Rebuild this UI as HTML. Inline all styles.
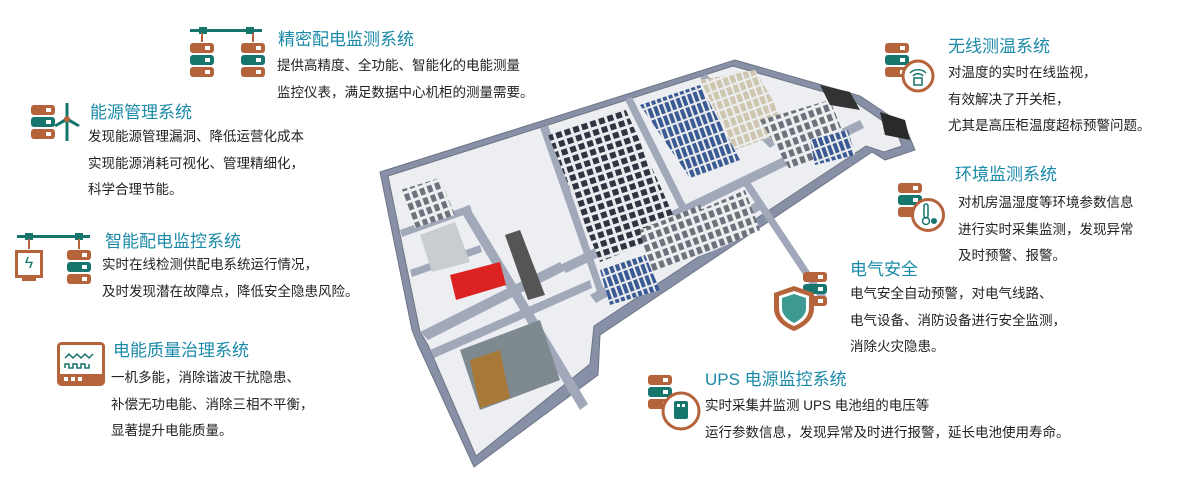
<!DOCTYPE html>
<html><head><meta charset="utf-8"><style>
body{margin:0;width:1200px;height:480px;background:#fff;position:relative;overflow:hidden;font-family:"Liberation Sans","Noto Sans CJK SC",sans-serif;}
.t{position:absolute;color:#1a8aa8;font-size:17px;white-space:nowrap;line-height:20px}
.p{position:absolute;color:#222;font-size:13.5px;white-space:nowrap;line-height:26.5px}
.sv{position:absolute;width:24px}
.sv div{height:10px;margin-bottom:2px;border-radius:3px;position:relative}
.sv .b{background:#b5633a}.sv .g{background:#16756c}
.sv div:after{content:"";position:absolute;right:4px;top:3px;width:5px;height:4px;background:#fff}
svg{position:absolute;left:0;top:0}
</style></head><body>
<svg width="1200" height="480" viewBox="0 0 1200 480">
<defs>
<pattern id="rk" width="9" height="9" patternUnits="userSpaceOnUse" patternTransform="rotate(-18)"><rect width="9" height="9" fill="#e9ebee"/><rect x="1" y="1" width="6" height="6" fill="#2f3440"/></pattern>
<pattern id="bk" width="6" height="12" patternUnits="userSpaceOnUse" patternTransform="rotate(-20)"><rect width="6" height="12" fill="#e9ebee"/><rect x="1" y="0" width="4" height="10" fill="#3a5a94"/></pattern>
<pattern id="gk" width="8" height="10" patternUnits="userSpaceOnUse" patternTransform="rotate(-20)"><rect width="8" height="10" fill="#eceef0"/><rect x="1" y="1" width="5" height="7" fill="#6c717b"/></pattern>
<pattern id="tk" width="7" height="10" patternUnits="userSpaceOnUse" patternTransform="rotate(-20)"><rect width="7" height="10" fill="#eceef0"/><rect x="1" y="1" width="5" height="8" fill="#cfc6b0"/></pattern>
</defs>
<g stroke="#6d7585" stroke-width="1">
<polygon points="380,172 735,60 860,96 905,126 915,150 885,160 872,152 600,335 598,375 474,467 418,345 412,330" fill="#8790a6"/>
<polygon points="388,176 733,66 852,100 896,130 902,146 884,152 866,146 594,326 590,364 476,456 428,345 420,332" fill="#eceef1"/>
</g>
<g fill="#a0a8b9">
<polygon points="420,332 560,262 566,270 428,340"/>
<polygon points="460,210 580,410 588,404 468,205"/>
<polygon points="540,128 600,300 606,296 548,125"/>
<polygon points="560,265 860,120 864,128 566,273"/>
<polygon points="625,100 700,250 706,246 632,97"/>
<polygon points="590,295 760,200 764,208 596,303"/>
<polygon points="430,350 590,280 592,288 434,358"/>
<polygon points="740,180 820,300 826,296 746,176"/>
<polygon points="400,230 470,205 472,212 402,237"/>
<polygon points="410,270 480,245 482,252 412,277"/>
<polygon points="700,78 770,148 776,144 706,74"/>
</g>
<g>
<polygon points="548,135 625,108 680,230 600,262" fill="url(#rk)"/>
<polygon points="640,105 700,85 740,160 690,178" fill="url(#bk)"/>
<polygon points="700,80 755,70 790,130 735,150" fill="url(#tk)"/>
<polygon points="760,120 830,100 850,150 790,170" fill="url(#gk)"/>
<polygon points="640,230 700,205 715,250 650,275" fill="url(#gk)"/>
<polygon points="700,210 745,190 760,230 715,250" fill="url(#gk)"/>
<polygon points="600,270 645,255 660,290 610,305" fill="url(#bk)"/>
<polygon points="810,140 848,130 855,155 815,165" fill="url(#bk)"/>
<polygon points="400,190 440,178 455,215 415,228" fill="url(#gk)"/>
<polygon points="450,275 500,262 506,285 456,300" fill="#d22"/>
<polygon points="420,235 455,222 470,262 432,272" fill="#c9ccd1"/>
<polygon points="505,235 520,230 545,295 528,300" fill="#555"/>
<polygon points="460,350 540,320 560,380 480,410" fill="#7f8a90"/>
<polygon points="470,360 500,350 505,375 475,385" fill="#a87838"/>
<polygon points="475,385 505,375 510,398 480,408" fill="#a87838"/>
<polygon points="820,85 850,92 860,110 830,105" fill="#333"/>
<polygon points="880,112 905,120 910,140 885,135" fill="#2a2a2a"/>
</g>
</svg>

<div style="position:absolute;left:190px;top:29px;width:72px;height:3px;background:#16756c"></div>
<div style="position:absolute;left:199px;top:27px;width:8px;height:7px;background:#16756c"></div>
<div style="position:absolute;left:246px;top:27px;width:8px;height:7px;background:#16756c"></div>
<div style="position:absolute;left:201px;top:33px;width:2px;height:9px;background:#b5633a"></div>
<div style="position:absolute;left:252px;top:33px;width:2px;height:9px;background:#b5633a"></div>
<div class="sv" style="left:190px;top:43px"><div class="b"></div><div class="g"></div><div class="b"></div></div>
<div class="sv" style="left:241px;top:43px"><div class="b"></div><div class="g"></div><div class="b"></div></div>

<div class="sv" style="left:31px;top:105px"><div class="b"></div><div class="g"></div><div class="b"></div></div>
<svg style="left:54px;top:103px" width="26" height="38"><rect x="11.5" y="0" width="3" height="38" fill="#16756c"/><polygon points="13,14 0,22 2,24 13,18" fill="#16756c"/><polygon points="13,14 26,22 24,24 13,18" fill="#16756c"/><circle cx="13" cy="16" r="3" fill="#b5633a"/></svg>

<div style="position:absolute;left:17px;top:235px;width:73px;height:3px;background:#16756c"></div>
<div style="position:absolute;left:25px;top:233px;width:8px;height:7px;background:#16756c"></div>
<div style="position:absolute;left:75px;top:233px;width:8px;height:7px;background:#16756c"></div>
<div style="position:absolute;left:28px;top:239px;width:2px;height:10px;background:#b5633a"></div>
<div style="position:absolute;left:78px;top:239px;width:2px;height:10px;background:#b5633a"></div>
<div style="position:absolute;left:15px;top:250px;width:22px;height:22px;border:3px solid #b5633a;color:#16756c;font-size:16px;text-align:center;line-height:22px">ϟ</div>
<div style="position:absolute;left:22px;top:278px;width:14px;height:3px;background:#b5633a"></div>
<div class="sv" style="left:67px;top:250px"><div class="b"></div><div class="g"></div><div class="b"></div></div>

<svg style="left:57px;top:342px" width="48" height="44"><rect x="1.5" y="1.5" width="45" height="41" rx="3" fill="none" stroke="#b5633a" stroke-width="3"/><rect x="1.5" y="32" width="45" height="10" fill="#b5633a"/><rect x="7" y="35" width="4" height="4" fill="#fff"/><rect x="14" y="35" width="4" height="4" fill="#fff"/><rect x="21" y="35" width="4" height="4" fill="#fff"/><path d="M8,16 l4,-4 4,4 4,-4 4,4 4,-4 4,4 4,-4" stroke="#16756c" fill="none" stroke-width="1.5"/><path d="M8,26 v-4 h4 v4 h4 v-4 h4 v4 h4 v-4 h4 v4 h4 v-4" stroke="#16756c" fill="none" stroke-width="1.5"/></svg>

<div class="sv" style="left:885px;top:43px"><div class="b"></div><div class="g"></div><div class="b"></div></div>
<svg style="left:900px;top:58px" width="36" height="36"><circle cx="18" cy="18" r="15" fill="#fff" stroke="#b5633a" stroke-width="3"/><path d="M10,15 a10,8 0 0 1 16,0 M13,18 a6,5 0 0 1 10,0" stroke="#16756c" fill="none" stroke-width="1.5"/><rect x="14" y="20" width="8" height="7" fill="none" stroke="#16756c" stroke-width="1.5"/></svg>

<div class="sv" style="left:898px;top:183px"><div class="b"></div><div class="g"></div><div class="b"></div></div>
<svg style="left:910px;top:197px" width="36" height="36"><circle cx="18" cy="18" r="15.5" fill="#fff" stroke="#b5633a" stroke-width="3"/><rect x="14" y="7" width="4" height="14" rx="2" fill="none" stroke="#16756c" stroke-width="1.5"/><circle cx="16" cy="24" r="3.5" fill="none" stroke="#16756c" stroke-width="1.5"/><circle cx="24" cy="24" r="3" fill="#16756c"/></svg>

<div class="sv" style="left:803px;top:272px"><div class="b"></div><div class="g"></div><div class="b"></div></div>
<svg style="left:772px;top:284px" width="44" height="48"><path d="M22,2 L42,9 V24 C42,36 32,43 22,47 C12,43 2,36 2,24 V9 Z" fill="#b5633a"/><path d="M22,7 L37,12 V24 C37,33 30,39 22,42 C14,39 7,33 7,24 V12 Z" fill="#fff"/><path d="M22,10 L34,14 V24 C34,31 28,36 22,39 C16,36 10,31 10,24 V14 Z" fill="#3c9a93"/></svg>

<div class="sv" style="left:648px;top:375px"><div class="b"></div><div class="g"></div><div class="b"></div></div>
<svg style="left:660px;top:390px" width="42" height="42"><circle cx="21" cy="21" r="18" fill="#fff" stroke="#b5633a" stroke-width="3"/><rect x="14" y="11" width="14" height="18" rx="2" fill="#16756c"/><rect x="17" y="14" width="3" height="3" fill="#fff"/><rect x="22" y="14" width="3" height="3" fill="#fff"/></svg>

<div class="t" style="left:278px;top:30px">精密配电监测系统</div>
<div class="p" style="left:277px;top:53px">提供高精度、全功能、智能化的电能测量<br>监控仪表，满足数据中心机柜的测量需要。</div>

<div class="t" style="left:90px;top:103px">能源管理系统</div>
<div class="p" style="left:88px;top:124px">发现能源管理漏洞、降低运营化成本<br>实现能源消耗可视化、管理精细化，<br>科学合理节能。</div>

<div class="t" style="left:105px;top:232px">智能配电监控系统</div>
<div class="p" style="left:102px;top:252px">实时在线检测供配电系统运行情况，<br>及时发现潜在故障点，降低安全隐患风险。</div>

<div class="t" style="left:113px;top:341px">电能质量治理系统</div>
<div class="p" style="left:111px;top:365px">一机多能，消除谐波干扰隐患、<br>补偿无功电能、消除三相不平衡，<br>显著提升电能质量。</div>

<div class="t" style="left:948px;top:37px">无线测温系统</div>
<div class="p" style="left:948px;top:60px">对温度的实时在线监视，<br>有效解决了开关柜，<br>尤其是高压柜温度超标预警问题。</div>

<div class="t" style="left:955px;top:165px">环境监测系统</div>
<div class="p" style="left:958px;top:190px">对机房温湿度等环境参数信息<br>进行实时采集监测，发现异常<br>及时预警、报警。</div>

<div class="t" style="left:850px;top:260px">电气安全</div>
<div class="p" style="left:850px;top:281px">电气安全自动预警，对电气线路、<br>电气设备、消防设备进行安全监测，<br>消除火灾隐患。</div>

<div class="t" style="left:705px;top:370px">UPS 电源监控系统</div>
<div class="p" style="left:705px;top:393px">实时采集并监测 UPS 电池组的电压等<br>运行参数信息，发现异常及时进行报警，延长电池使用寿命。</div>
</body></html>
